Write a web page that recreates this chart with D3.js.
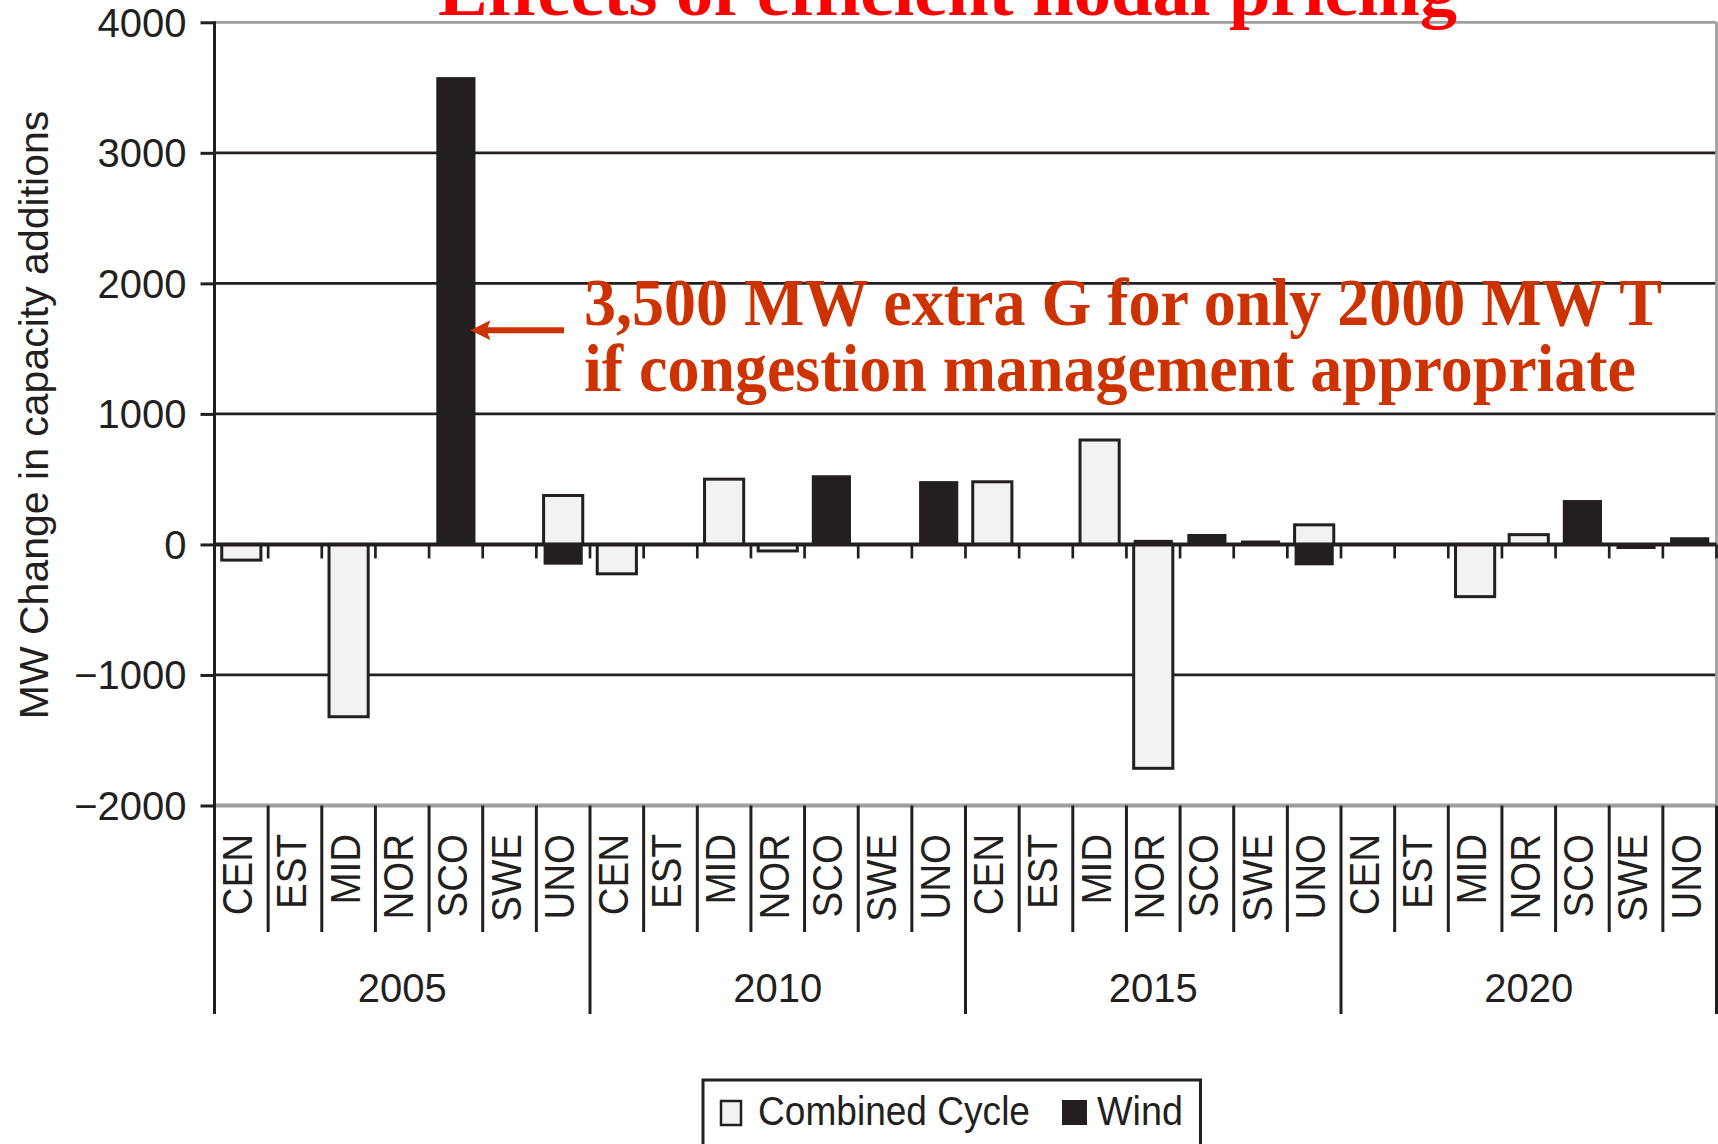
<!DOCTYPE html>
<html>
<head>
<meta charset="utf-8">
<script src="https://cdn.jsdelivr.net/npm/d3@7"></script>
<style>
  html, body { margin: 0; padding: 0; background: #fff; }
  svg { display: block; }
</style>
</head>
<body>
<svg id="chart" width="1718" height="1144"></svg>
<script>
// data
const years = ["2005", "2010", "2015", "2020"];
const regions = ["CEN", "EST", "MID", "NOR", "SCO", "SWE", "UNO"];
// MW change, 7 regions per year, years in order
const combinedCycle = [
  -120, 0, -1320, 0, 0, 0, 375,
  -225, 0, 500, -50, 0, 0, 0,
  480, 0, 800, -1715, 0, 0, 150,
  0, 0, -400, 75, 0, 0, 0
];
const wind = [
  0, 0, 0, 0, 3580, 0, -155,
  0, 0, 0, 0, 530, 0, 485,
  0, 0, 0, 35, 80, 30, -160,
  0, 0, 0, 0, 340, -35, 55
];
const yTicks = [-2000, -1000, 0, 1000, 2000, 3000, 4000];

const INK = "#231f20";
const LIGHT = "#f2f2f2";
const GREY = "#9e9ea0";
const SANS = "'Liberation Sans', Arial, Helvetica, sans-serif";
const SERIF = "'Liberation Serif', 'Times New Roman', serif";

const svg = d3.select("#chart");

const rows = years.flatMap((yr, i) => regions.map((r, j) => ({
  key: yr + "-" + r, year: yr, region: r,
  cc: combinedCycle[i * regions.length + j],
  wind: wind[i * regions.length + j]
})));

const plotLeft = 214.5, plotRight = 1716.5, plotTop = 22.3, plotBottom = 805.5;

const x = d3.scaleBand().domain(rows.map(d => d.key)).range([plotLeft, plotRight]);
const y = d3.scaleLinear().domain([-2000, 4000]).range([plotBottom, plotTop]);
const barW = x.bandwidth() * 0.73;

// grid lines
svg.append("g").selectAll("line")
  .data(yTicks.filter(v => v !== 0))
  .join("line")
  .attr("x1", plotLeft).attr("x2", plotRight)
  .attr("y1", d => y(d)).attr("y2", d => y(d))
  .attr("stroke", d => (d === 4000 || d === -2000) ? GREY : INK)
  .attr("stroke-width", d => d === -2000 ? 4 : 2.7);

// right edge
svg.append("line")
  .attr("x1", plotRight).attr("x2", plotRight).attr("y1", plotTop).attr("y2", plotBottom)
  .attr("stroke", GREY).attr("stroke-width", 2.7);

// bars, stacked so negatives go below zero
const series = d3.stack().keys(["cc", "wind"]).offset(d3.stackOffsetDiverging)(rows);

series.forEach(s => {
  const isCC = s.key === "cc";
  svg.append("g").selectAll("rect")
    .data(s.filter(d => d[1] !== d[0]))
    .join("rect")
    .attr("x", d => x(d.data.key) + (x.bandwidth() - barW) / 2)
    .attr("width", barW)
    .attr("y", d => y(Math.max(d[0], d[1])))
    .attr("height", d => Math.abs(y(d[0]) - y(d[1])))
    .attr("fill", isCC ? LIGHT : INK)
    .attr("stroke", isCC ? INK : "none")
    .attr("stroke-width", 3);
});

// zero line + small ticks between regions
svg.append("line")
  .attr("x1", plotLeft).attr("x2", plotRight).attr("y1", y(0)).attr("y2", y(0))
  .attr("stroke", INK).attr("stroke-width", 4);

const bounds = rows.map(d => x(d.key) + x.bandwidth());
svg.append("g").selectAll("line")
  .data(bounds)
  .join("line")
  .attr("x1", d => d).attr("x2", d => d)
  .attr("y1", y(0)).attr("y2", y(0) + 14)
  .attr("stroke", INK).attr("stroke-width", 2.7);

// y axis
const yAxis = svg.append("g")
  .attr("transform", `translate(${plotLeft},0)`)
  .call(d3.axisLeft(y).tickValues(yTicks).tickFormat(d3.format("d")).tickSize(14).tickPadding(14));
yAxis.select(".domain").remove();
yAxis.selectAll(".tick line").attr("stroke", INK).attr("stroke-width", 3);
yAxis.selectAll(".tick text")
  .attr("fill", INK).attr("dy", "0.35em")
  .style("font-family", SANS).style("font-size", "40px");

svg.append("line")
  .attr("x1", plotLeft).attr("x2", plotLeft).attr("y1", plotTop - 1).attr("y2", 1014)
  .attr("stroke", INK).attr("stroke-width", 3);

svg.append("text")
  .attr("transform", `translate(48,415) rotate(-90)`)
  .attr("text-anchor", "middle")
  .attr("fill", INK)
  .style("font-family", SANS).style("font-size", "41px")
  .text("MW Change in capacity additions");

// category axis under the plot
svg.append("g").selectAll("line")
  .data(bounds)
  .join("line")
  .attr("x1", d => d).attr("x2", d => d)
  .attr("y1", plotBottom).attr("y2", (d, i) => (i + 1) % regions.length === 0 ? 1014 : 932)
  .attr("stroke", INK).attr("stroke-width", 3);

svg.append("g").selectAll("text")
  .data(rows)
  .join("text")
  .attr("transform", d => `translate(${x(d.key) + x.bandwidth() / 2 + 11},834) rotate(-90) scale(1,1.1)`)
  .attr("text-anchor", "end")
  .attr("fill", INK)
  .style("font-family", SANS).style("font-size", "38.5px")
  .text(d => d.region);

svg.append("g").selectAll("text")
  .data(years)
  .join("text")
  .attr("x", yr => {
    const a = x(yr + "-" + regions[0]);
    const b = x(yr + "-" + regions[regions.length - 1]) + x.bandwidth();
    return (a + b) / 2;
  })
  .attr("y", 1002)
  .attr("text-anchor", "middle")
  .attr("fill", INK)
  .style("font-family", SANS).style("font-size", "40px")
  .text(yr => yr);

// legend (box runs off the bottom)
const lg = svg.append("g");
lg.append("rect").attr("x", 703).attr("y", 1080).attr("width", 497.5).attr("height", 120)
  .attr("fill", "none").attr("stroke", INK).attr("stroke-width", 3);
lg.append("rect").attr("x", 721).attr("y", 1101).attr("width", 20).attr("height", 24)
  .attr("fill", LIGHT).attr("stroke", INK).attr("stroke-width", 2.5);
lg.append("text").attr("x", 758).attr("y", 1125)
  .attr("textLength", 272).attr("lengthAdjust", "spacingAndGlyphs")
  .attr("fill", INK).style("font-family", SANS).style("font-size", "40px")
  .text("Combined Cycle");
lg.append("rect").attr("x", 1062).attr("y", 1100).attr("width", 25).attr("height", 25)
  .attr("fill", INK);
lg.append("text").attr("x", 1097).attr("y", 1125)
  .attr("textLength", 86).attr("lengthAdjust", "spacingAndGlyphs")
  .attr("fill", INK).style("font-family", SANS).style("font-size", "40px")
  .text("Wind");

// title, cut off by the top edge
svg.append("text")
  .attr("x", 438).attr("y", 15)
  .attr("textLength", 1019).attr("lengthAdjust", "spacingAndGlyphs")
  .attr("fill", "#ff0000")
  .style("font-family", SERIF).style("font-weight", "bold").style("font-size", "70px")
  .text("Effects of efficient nodal pricing");

// annotation
const ORANGE = "#cc3300";
svg.append("text")
  .attr("x", 584).attr("y", 325)
  .attr("textLength", 1078).attr("lengthAdjust", "spacingAndGlyphs")
  .attr("fill", ORANGE)
  .style("font-family", SERIF).style("font-weight", "bold").style("font-size", "68px")
  .text("3,500 MW extra G for only 2000 MW T");
svg.append("text")
  .attr("x", 584).attr("y", 391)
  .attr("textLength", 1052).attr("lengthAdjust", "spacingAndGlyphs")
  .attr("fill", ORANGE)
  .style("font-family", SERIF).style("font-weight", "bold").style("font-size", "68px")
  .text("if congestion management appropriate");

const tipX = x("2005-SCO") + (x.bandwidth() + barW) / 2 - 5;
const tipY = y(1640);
svg.append("line")
  .attr("x1", tipX + 14).attr("x2", 564).attr("y1", tipY).attr("y2", tipY)
  .attr("stroke", ORANGE).attr("stroke-width", 6);
svg.append("path")
  .attr("d", `M${tipX},${tipY} L${tipX + 20},${tipY - 10} L${tipX + 16},${tipY} L${tipX + 20},${tipY + 10} Z`)
  .attr("fill", ORANGE);
</script>
</body>
</html>
